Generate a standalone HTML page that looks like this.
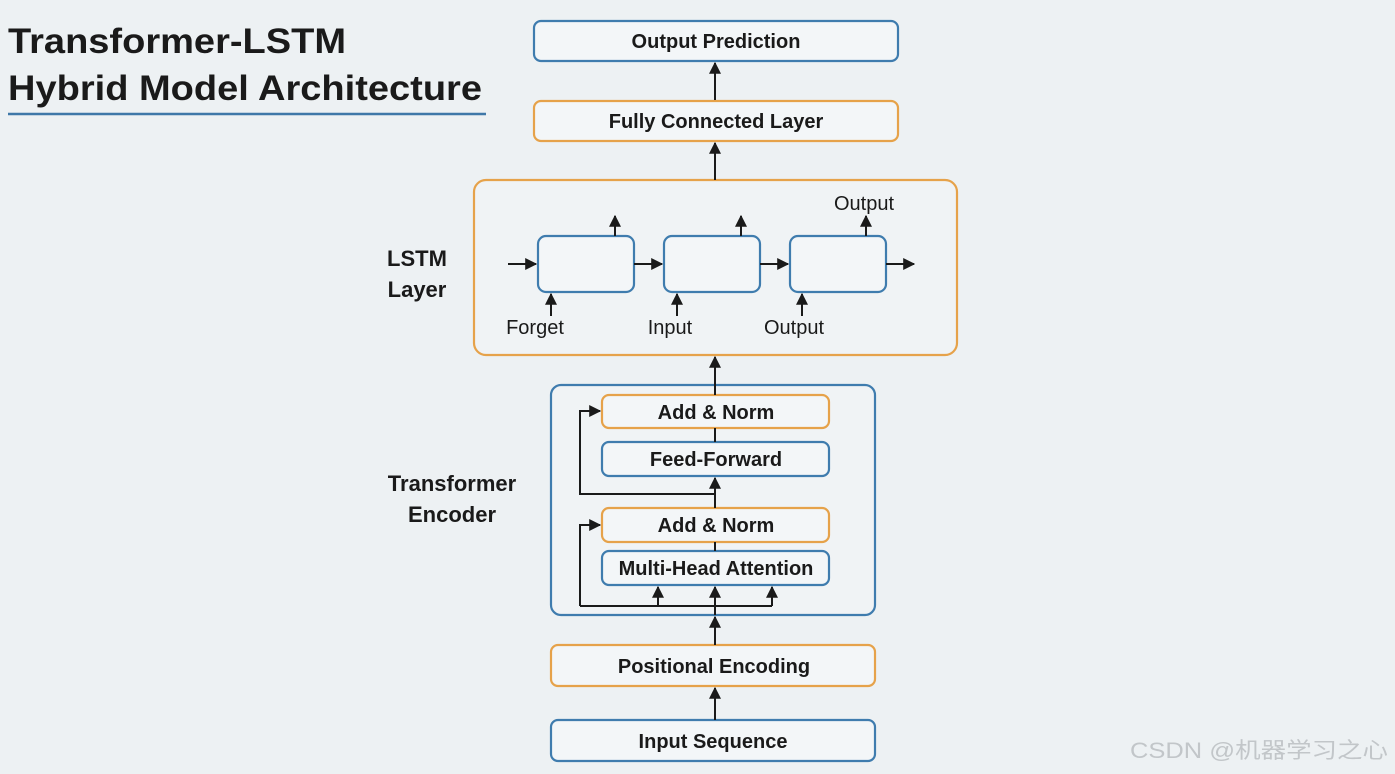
<!DOCTYPE html>
<html><head><meta charset="utf-8"><style>
html,body{margin:0;padding:0;background:#edf1f3;}
svg{display:block;}
text{font-family:"Liberation Sans",Arial,sans-serif;fill:#1a1a1a;}
.b{font-weight:bold;}
</style></head><body>
<svg width="1395" height="774" viewBox="0 0 1395 774" xmlns="http://www.w3.org/2000/svg">
<defs>
<marker id="h" viewBox="0 0 10 10" markerWidth="12" markerHeight="12" refX="9" refY="5" orient="auto" markerUnits="userSpaceOnUse">
<path d="M0,0 L10,5 L0,10 Z" fill="#1a1a1a"/>
</marker>
</defs>
<rect width="1395" height="774" fill="#edf1f3"/>
<text x="8" y="53" class="b" font-size="35" textLength="338" lengthAdjust="spacingAndGlyphs">Transformer-LSTM</text>
<text x="8" y="100" class="b" font-size="35" textLength="474" lengthAdjust="spacingAndGlyphs">Hybrid Model Architecture</text>
<line x1="8" y1="114" x2="486" y2="114" stroke="#3f78a8" stroke-width="2.5"/>

<g fill="#f3f6f8" stroke-width="2.2">
<rect x="534" y="21" width="364" height="40" rx="7" stroke="#3f7cae"/>
<rect x="534" y="101" width="364" height="40" rx="7" stroke="#e6a24a"/>
<rect x="474" y="180" width="483" height="175" rx="12" stroke="#e6a24a" fill="#f0f3f5"/>
<rect x="538" y="236" width="96" height="56" rx="8" stroke="#3f7cae"/>
<rect x="664" y="236" width="96" height="56" rx="8" stroke="#3f7cae"/>
<rect x="790" y="236" width="96" height="56" rx="8" stroke="#3f7cae"/>
<rect x="551" y="385" width="324" height="230" rx="10" stroke="#3f7cae" fill="#f0f3f5"/>
<rect x="602" y="395" width="227" height="33" rx="7" stroke="#e6a24a"/>
<rect x="602" y="442" width="227" height="34" rx="7" stroke="#3f7cae"/>
<rect x="602" y="508" width="227" height="34" rx="7" stroke="#e6a24a"/>
<rect x="602" y="551" width="227" height="34" rx="7" stroke="#3f7cae"/>
<rect x="551" y="645" width="324" height="41" rx="7" stroke="#e6a24a"/>
<rect x="551" y="720" width="324" height="41" rx="7" stroke="#3f7cae"/>
</g>

<g stroke="#1a1a1a" stroke-width="2" fill="none">
<line x1="715" y1="100" x2="715" y2="63" marker-end="url(#h)"/>
<line x1="715" y1="180" x2="715" y2="143" marker-end="url(#h)"/>
<line x1="508" y1="264" x2="536" y2="264" marker-end="url(#h)"/>
<line x1="634" y1="264" x2="662" y2="264" marker-end="url(#h)"/>
<line x1="760" y1="264" x2="788" y2="264" marker-end="url(#h)"/>
<line x1="886" y1="264" x2="914" y2="264" marker-end="url(#h)"/>
<line x1="615" y1="236" x2="615" y2="216" marker-end="url(#h)"/>
<line x1="741" y1="236" x2="741" y2="216" marker-end="url(#h)"/>
<line x1="866" y1="236" x2="866" y2="216" marker-end="url(#h)"/>
<line x1="551" y1="316" x2="551" y2="294" marker-end="url(#h)"/>
<line x1="677" y1="316" x2="677" y2="294" marker-end="url(#h)"/>
<line x1="802" y1="316" x2="802" y2="294" marker-end="url(#h)"/>
<line x1="715" y1="385" x2="715" y2="357" marker-end="url(#h)"/>
<line x1="715" y1="385" x2="715" y2="395"/>
<line x1="715" y1="428" x2="715" y2="442"/>
<line x1="715" y1="508" x2="715" y2="478" marker-end="url(#h)"/>
<line x1="715" y1="542" x2="715" y2="551"/>
<polyline points="715,494 580,494 580,411 600,411" marker-end="url(#h)"/>
<polyline points="580,606 580,525 600,525" marker-end="url(#h)"/>
<line x1="580" y1="606" x2="772" y2="606"/>
<line x1="658" y1="606" x2="658" y2="587" marker-end="url(#h)"/>
<line x1="715" y1="615" x2="715" y2="587" marker-end="url(#h)"/>
<line x1="772" y1="606" x2="772" y2="587" marker-end="url(#h)"/>
<line x1="715" y1="645" x2="715" y2="617" marker-end="url(#h)"/>
<line x1="715" y1="720" x2="715" y2="688" marker-end="url(#h)"/>
</g>

<g text-anchor="middle" class="b" font-size="20">
<text x="716" y="48" class="b">Output Prediction</text>
<text x="716" y="128" class="b">Fully Connected Layer</text>
<text x="716" y="419" class="b">Add &amp; Norm</text>
<text x="716" y="466" class="b">Feed-Forward</text>
<text x="716" y="532" class="b">Add &amp; Norm</text>
<text x="716" y="575" class="b">Multi-Head Attention</text>
<text x="714" y="673" class="b">Positional Encoding</text>
<text x="713" y="748" class="b">Input Sequence</text>
<text x="417" y="266" class="b" font-size="22">LSTM</text>
<text x="417" y="297" class="b" font-size="22">Layer</text>
<text x="452" y="491" class="b" font-size="22">Transformer</text>
<text x="452" y="522" class="b" font-size="22">Encoder</text>
</g>
<g text-anchor="middle" font-size="20">
<text x="535" y="334">Forget</text>
<text x="670" y="334">Input</text>
<text x="794" y="334">Output</text>
<text x="864" y="210">Output</text>
</g>
<text x="1130" y="758" font-size="22" textLength="258" lengthAdjust="spacingAndGlyphs" style="fill:#c2c6c9;font-family:'Liberation Sans','Noto Sans CJK SC',sans-serif">CSDN @机器学习之心</text>
</svg>
</body></html>
